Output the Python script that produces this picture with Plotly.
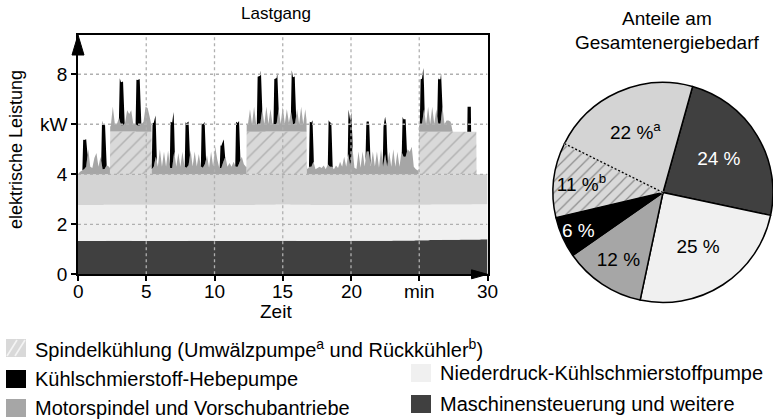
import math
import plotly.graph_objects as go

# ---------------- data ----------------
# base layers (kW), sparse time grid in min
base_t = [0, 3, 6, 9, 12, 15, 18, 21, 24, 27, 30]
steuerung = [1.33, 1.34, 1.33, 1.34, 1.33, 1.34, 1.33, 1.34, 1.35, 1.38, 1.40]
niederdruck = [1.44, 1.44, 1.45, 1.44, 1.44, 1.45, 1.44, 1.44, 1.43, 1.41, 1.40]
umwaelz = [1.23, 1.23, 1.22, 1.23, 1.23, 1.22, 1.23, 1.23, 1.22, 1.21, 1.20]

# Rückkühler (kW)
rk_t = [0, 2.34, 2.36, 5.38, 5.40, 12.34, 12.36, 16.74, 16.76, 24.96, 24.98, 29.18, 29.20, 30]
rk_v = [0, 0, 1.7, 1.7, 0, 0, 1.7, 1.7, 0, 0, 1.7, 1.7, 0, 0]

# Motorspindel und Vorschubantriebe (kW), sampled every 0.15 min
ms_t = [round(0.15 * i, 2) for i in range(201)]
ms_v = [
    0.0, 0.1, 0.15, 0.2, 0.3, 1.0, 0.3, 0.25, 0.65, 0.85,
    0.3, 0.7, 0.2, 0.2, 0.35, 0.3, 0.2, 1.0, 0.3, 0.3,
    0.55, 0.25, 0.25, 0.35, 0.85, 0.7, 0.85, 0.3, 0.3, 0.25,
    0.25, 0.3, 0.4, 1.0, 0.95, 0.6, 0.2, 0.3, 0.7, 0.3,
    1.0, 0.3, 0.9, 0.3, 0.95, 0.25, 0.25, 0.9, 0.3, 0.85,
    0.3, 0.9, 0.3, 0.25, 0.35, 0.95, 0.3, 0.9, 0.3, 0.8,
    0.3, 0.25, 0.4, 0.75, 0.25, 0.9, 0.3, 1.1, 0.6, 0.25,
    0.25, 0.5, 0.7, 0.3, 0.45, 0.3, 0.5, 0.3, 0.3, 0.5,
    0.7, 0.4, 0.3, 0.3, 0.9, 0.3, 1.0, 0.3, 0.3, 0.3,
    0.9, 0.3, 1.0, 0.3, 0.9, 0.3, 0.3, 0.3, 0.9, 0.3,
    1.0, 0.3, 0.9, 0.35, 0.8, 0.3, 0.3, 0.9, 0.3, 1.0,
    0.3, 0.9, 0.2, 0.3, 0.3, 0.5, 0.2, 0.25, 0.3, 0.25,
    0.35, 0.2, 0.4, 0.3, 0.3, 0.2, 0.35, 0.25, 0.5, 0.3,
    0.7, 0.3, 0.8, 0.3, 1.1, 0.25, 0.2, 0.9, 0.25, 0.9,
    0.3, 0.9, 0.9, 0.3, 0.9, 0.3, 0.9, 0.25, 1.0, 0.3,
    0.8, 0.3, 0.9, 0.3, 1.0, 0.3, 0.9, 0.3, 0.9, 0.7,
    0.7, 1.0, 0.9, 1.1, 0.3, 0.2, 0.15, 0.3, 0.3, 0.9,
    0.3, 1.0, 0.3, 1.0, 0.3, 0.9, 0.3, 0.3, 1.0, 0.3,
    0.45, 0.45, 0.4, 0.0, 0.0, 0.0, 0.0, 0.0, 0.0, 0.0,
    0.0, 0.0, 0.0, 0.0, 0.0, 0.0, 0.0, 0.0, 0.0, 0.0,
    0.0,
]

# Kühlschmierstoff-Hebepumpe (kW)
heb_t = [0,
         0.32, 0.38, 0.60, 0.70,
         1.70, 1.76, 1.98, 2.10,
         3.00, 3.06, 3.30, 3.42,
         4.22, 4.28, 4.52, 4.64,
         5.40, 5.46, 5.68, 5.78,
         6.72, 6.78, 7.00, 7.10,
         7.82, 7.88, 8.10, 8.20,
         9.00, 9.06, 9.28, 9.38,
         10.38, 10.44, 10.68, 10.78,
         11.52, 11.58, 11.80, 11.90,
         13.10, 13.16, 13.40, 13.50,
         14.32, 14.38, 14.60, 14.70,
         15.60, 15.66, 15.88, 15.98,
         16.92, 16.98, 17.18, 17.28,
         18.30, 18.36, 18.56, 18.66,
         19.76, 19.82, 20.02, 20.12,
         21.06, 21.12, 21.34, 21.44,
         22.32, 22.38, 22.60, 22.70,
         23.72, 23.78, 24.00, 24.10,
         25.04, 25.10, 25.30, 25.40,
         26.32, 26.38, 26.60, 26.70,
         28.52, 28.54, 28.78, 28.80,
         30]
heb_v = [0,
         0, 1.2, 1.1, 0,
         0, 1.8, 1.75, 0,
         0, 1.7, 1.75, 0,
         0, 1.8, 1.85, 0,
         0, 1.8, 1.7, 0,
         0, 1.85, 1.8, 0,
         0, 1.8, 1.75, 0,
         0, 1.75, 1.7, 0,
         0, 0.9, 0.85, 0,
         0, 1.8, 1.7, 0,
         0, 1.9, 1.95, 0,
         0, 1.8, 1.85, 0,
         0, 1.85, 1.9, 0,
         0, 1.8, 1.75, 0,
         0, 1.8, 1.75, 0,
         0, 1.85, 1.8, 0,
         0, 1.2, 1.2, 0,
         0, 1.5, 1.5, 0,
         0, 1.5, 1.5, 0,
         0, 1.8, 1.85, 0,
         0, 1.8, 1.8, 0,
         0, 1.0, 1.0, 0,
         0]

x_ticks = [0, 5, 10, 15, 20, 25, 30]
x_ticktext = ["0", "5", "10", "15", "20", "min", "30"]
y_ticks = [0, 2, 4, 6, 8]
y_ticktext = ["0", "2", "4", "kW", "8"]

pie_names = ["Maschinensteuerung", "Niederdruck-KSS-Pumpe", "Motorspindel", "KSS-Hebepumpe",
             "Rückkühler", "Umwälzpumpe"]
pie_values = [24, 25, 12, 6, 11, 22]
pie_text = ["24 %", "25 %", "12 %", "6 %", "11 %<sup>b</sup>", "22 %<sup>a</sup>"]

legend_left = ["Spindelkühlung (Umwälzpumpe<sup>a</sup> und Rückkühler<sup>b</sup>)",
               "Kühlschmierstoff-Hebepumpe",
               "Motorspindel und Vorschubantriebe"]
legend_right = ["Niederdruck-Kühlschmierstoffpumpe",
                "Maschinensteuerung und weitere"]

# ---------------- styles ----------------
C_STEU = "#404040"
C_NIED = "#f0f0f0"
C_UMW = "#d4d4d4"
C_RK_BG = "#d9d9d9"
C_RK_FG = "#8c8c8c"
C_MS = "#a6a6a6"
C_HEB = "#000000"
FONT = "Liberation Sans, Arial, sans-serif"

W, H = 773, 420
def fx(p):
    return p / W
def fy(p):
    return 1 - p / H

X0, X1 = 78, 487.5
Y0, Y1 = 274.3, 35
YMAX = 9.57

fig = go.Figure()

layers = [
    ("Maschinensteuerung und weitere", base_t, steuerung, C_STEU, None),
    ("Niederdruck-Kühlschmierstoffpumpe", base_t, niederdruck, C_NIED, None),
    ("Umwälzpumpe", base_t, umwaelz, C_UMW, None),
    ("Rückkühler", rk_t, rk_v, C_RK_BG,
     dict(shape="/", fgcolor=C_RK_FG, bgcolor=C_RK_BG, size=9, solidity=0.17)),
    ("Motorspindel und Vorschubantriebe", ms_t, ms_v, C_MS, None),
    ("Kühlschmierstoff-Hebepumpe", heb_t, heb_v, C_HEB, None),
]
for i, (name, xs, ys, col, pat) in enumerate(layers):
    kw = dict(x=xs, y=ys, name=name, mode="none", stackgroup="one",
              fillcolor=col, showlegend=False, hoverinfo="skip")
    if i == 0:
        kw["stackgaps"] = "interpolate"
    if pat:
        kw["fillpattern"] = pat
    fig.add_trace(go.Scatter(**kw))

# pie
rotation = 15.6
fig.add_trace(go.Pie(
    values=pie_values, labels=pie_names, text=pie_text, textinfo="text",
    texttemplate="%{text}", sort=False, direction="clockwise", rotation=rotation,
    marker=dict(colors=[C_STEU, C_NIED, C_MS, C_HEB, C_RK_BG, C_UMW],
                line=dict(color="black", width=1.5),
                pattern=dict(shape=["", "", "", "", "/", ""], fgcolor=C_RK_FG,
                             bgcolor=C_RK_BG, size=8, solidity=0.15)),
    textposition="inside", insidetextorientation="horizontal",
    textfont=dict(family=FONT, size=19,
                  color=["white", "black", "black", "white", "black", "black"]),
    domain=dict(x=[fx(553), 1.0], y=[fy(302.5), fy(82.5)]),
    showlegend=False, hoverinfo="skip",
))

shapes = []
# grid lines above data
for xv in x_ticks[1:-1]:
    shapes.append(dict(type="line", xref="x", yref="y", x0=xv, x1=xv, y0=0, y1=YMAX,
                       line=dict(color="#b0b0b0", width=1.3, dash="3px,3px"), layer="above"))
for yv in y_ticks[1:]:
    shapes.append(dict(type="line", xref="x", yref="y", x0=0, x1=30, y0=yv, y1=yv,
                       line=dict(color="#b0b0b0", width=1.3, dash="3px,3px"), layer="above"))
# arrow heads (paper coordinates)
shapes.append(dict(type="path", xref="paper", yref="paper",
                   path=f"M{fx(X0-6)},{fy(Y1+20)} L{fx(X0+6)},{fy(Y1+20)} L{fx(X0)},{fy(Y1)} Z",
                   fillcolor="black", line=dict(color="black", width=1), layer="above"))
shapes.append(dict(type="path", xref="paper", yref="paper",
                   path=f"M{fx(X1-16)},{fy(Y0-4.5)} L{fx(X1-16)},{fy(Y0+4.5)} L{fx(X1)},{fy(Y0)} Z",
                   fillcolor="black", line=dict(color="black", width=1), layer="above"))

# dotted boundary between Rückkühler and Umwälzpumpe slices in the pie
cx, cy, r = 663, 192.5, 110
ang = math.radians(rotation + 360 * sum(pie_values[:5]) / sum(pie_values))
ex, ey = cx + r * math.sin(ang), cy - r * math.cos(ang)
shapes.append(dict(type="line", xref="paper", yref="paper", x0=fx(cx), y0=fy(cy),
                   x1=fx(ex), y1=fy(ey), line=dict(color=C_UMW, width=2.6), layer="above"))
shapes.append(dict(type="line", xref="paper", yref="paper", x0=fx(cx), y0=fy(cy),
                   x1=fx(ex), y1=fy(ey), line=dict(color="black", width=1.3, dash="2px,2px"),
                   layer="above"))

# legend swatches and texts
annotations = []
SWW, SWH = 20, 18
LFS = 20
left_rows = [348, 379, 408]
right_rows = [373, 404]
left_cols = [C_RK_BG, C_HEB, C_MS]
right_cols = [C_NIED, C_STEU]
for i, yc in enumerate(left_rows):
    shapes.append(dict(type="rect", xref="paper", yref="paper", x0=fx(6), x1=fx(6 + SWW),
                       y0=fy(yc + SWH / 2), y1=fy(yc - SWH / 2), fillcolor=left_cols[i],
                       line=dict(width=0)))
    annotations.append(dict(x=fx(33), y=fy(yc), xref="paper", yref="paper", text=legend_left[i],
                            showarrow=False, xanchor="left", yanchor="middle",
                            font=dict(family=FONT, size=LFS, color="black")))
for off in (1, 9):
    shapes.append(dict(type="line", xref="paper", yref="paper",
                       x0=fx(6 + off), y0=fy(348 + SWH / 2 - 1), x1=fx(6 + off + 10),
                       y1=fy(348 - SWH / 2 + 1), line=dict(color="#f4f4f4", width=1.6)))
for i, yc in enumerate(right_rows):
    shapes.append(dict(type="rect", xref="paper", yref="paper", x0=fx(411), x1=fx(411 + SWW),
                       y0=fy(yc + SWH / 2), y1=fy(yc - SWH / 2), fillcolor=right_cols[i],
                       line=dict(width=0)))
    annotations.append(dict(x=fx(438), y=fy(yc), xref="paper", yref="paper", text=legend_right[i],
                            showarrow=False, xanchor="left", yanchor="middle",
                            font=dict(family=FONT, size=LFS, color="black")))

# x tick labels placed just below the axis
for tv, tt in zip(x_ticks, x_ticktext):
    annotations.append(dict(x=tv, y=fy(291), xref="x", yref="paper", text=tt,
                            showarrow=False, xanchor="center", yanchor="middle",
                            font=dict(family=FONT, size=19, color="black")))

# titles
def label(x, y, text, size, angle=0):
    annotations.append(dict(x=fx(x), y=fy(y), xref="paper", yref="paper", text=text,
                            textangle=angle, showarrow=False, xanchor="center",
                            yanchor="middle", font=dict(family=FONT, size=size, color="black")))

label(276, 13, "Lastgang", 17)
label(667, 19, "Anteile am", 19)
label(667, 43, "Gesamtenergiebedarf", 19)
label(276, 311, "Zeit", 19)
label(16, 150, "elektrische Leistung", 18, -90)

axis_common = dict(showgrid=False, zeroline=False, showline=True, linecolor="black",
                   linewidth=1.5, mirror=True, ticks="outside", ticklen=5, tickwidth=1.5,
                   tickcolor="black", tickfont=dict(family=FONT, size=19),
                   fixedrange=True, automargin=False)

fig.update_layout(
    width=W, height=H, margin=dict(l=0, r=0, t=0, b=0, pad=0), autosize=False,
    paper_bgcolor="white", plot_bgcolor="white",
    font=dict(family=FONT, size=16, color="black"),
    uniformtext=dict(minsize=19, mode="show"),
    shapes=shapes, annotations=annotations, showlegend=False,
    xaxis=dict(domain=[fx(X0), fx(X1)], range=[0, 30], tickvals=x_ticks,
               showticklabels=False, **axis_common),
    yaxis=dict(domain=[fy(Y0), fy(Y1)], range=[0, YMAX], tickvals=y_ticks, ticktext=y_ticktext,
               ticklabelstandoff=0, **axis_common),
)

fig.write_html("out.html",
               post_script="document.body.style.margin='0';document.body.style.overflow='hidden';")
